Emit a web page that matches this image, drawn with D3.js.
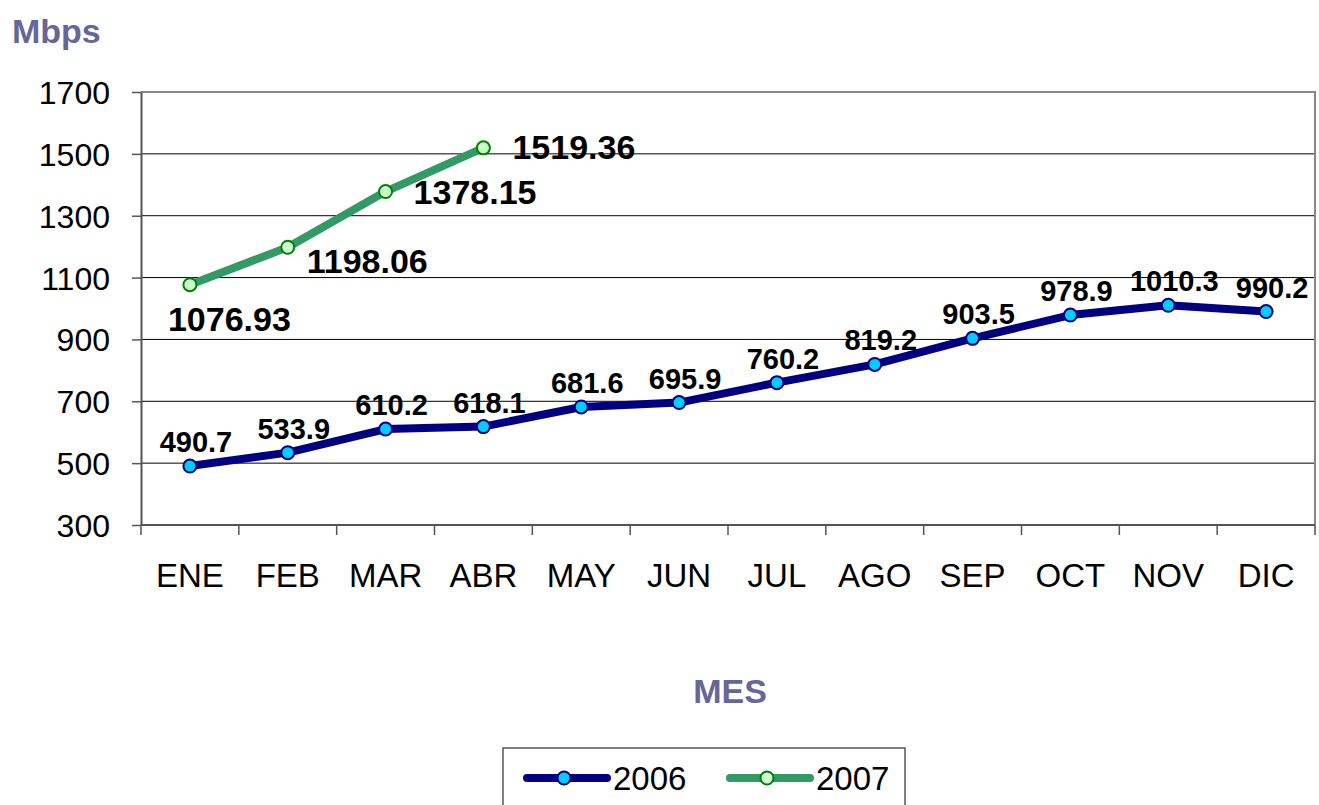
<!DOCTYPE html>
<html>
<head>
<meta charset="utf-8">
<script src="https://cdn.jsdelivr.net/npm/d3@7"></script>
<style>
  body { margin: 0; background: #fff; }
  svg { display: block; font-family: "Liberation Sans", Arial, sans-serif; }
</style>
</head>
<body>
<div id="chart"></div>
<script>
const months = ["ENE", "FEB", "MAR", "ABR", "MAY", "JUN", "JUL", "AGO", "SEP", "OCT", "NOV", "DIC"]
const values2006 = [490.7, 533.9, 610.2, 618.1, 681.6, 695.9, 760.2, 819.2, 903.5, 978.9, 1010.3, 990.2]
const values2007 = [1076.93, 1198.06, 1378.15, 1519.36]
const yTicks = [300, 500, 700, 900, 1100, 1300, 1500, 1700]

const width = 1319
const height = 805
const margin = ({ top: 92, right: 4, bottom: 280, left: 141 })

const x = d3.scaleBand().domain(months).range([margin.left, width - margin.right])
const y = d3.scaleLinear().domain([300, 1700]).range([height - margin.bottom, margin.top])
const cx = m => x(m) + x.bandwidth() / 2

const svg = d3.select("#chart").append("svg")
	.attr("width", width)
	.attr("height", height)

// gridlines
svg.append("g")
	.selectAll("line")
	.data(yTicks.slice(1, -1))
	.join("line")
	.attr("x1", margin.left).attr("x2", width - margin.right)
	.attr("y1", d => y(d)).attr("y2", d => y(d))
	.attr("stroke", "#000").attr("stroke-width", 1)

// plot frame top / right
svg.append("path")
	.attr("d", `M${margin.left},${y(1700)}H${width - margin.right}V${y(300)}`)
	.attr("fill", "none").attr("stroke", "#888").attr("stroke-width", 2)

// y axis
const yAxis = svg.append("g")
	.attr("transform", `translate(${margin.left},0)`)
	.call(d3.axisLeft(y).tickValues(yTicks).tickFormat(d3.format("d")).tickSize(9).tickPadding(22).tickSizeOuter(0))
yAxis.select(".domain").attr("stroke", "#555").attr("stroke-width", 2)
yAxis.selectAll(".tick line").attr("stroke", "#555").attr("stroke-width", 1.5)
yAxis.selectAll("text").attr("font-size", 32).attr("fill", "#000").attr("dy", "0.36em")
	.attr("font-family", "Liberation Sans, Arial, sans-serif")

// x axis: ticks at category boundaries
const xAxisG = svg.append("g").attr("transform", `translate(0,${y(300)})`)
xAxisG.append("line")
	.attr("x1", margin.left).attr("x2", width - margin.right)
	.attr("stroke", "#555").attr("stroke-width", 2)
xAxisG.selectAll(".bound")
	.data(months.concat(["end"]))
	.join("line")
	.attr("x1", (d, i) => i < months.length ? x(d) : width - margin.right)
	.attr("x2", (d, i) => i < months.length ? x(d) : width - margin.right)
	.attr("y1", 0).attr("y2", 10)
	.attr("stroke", "#555").attr("stroke-width", 1.5)
xAxisG.selectAll(".lbl")
	.data(months)
	.join("text")
	.attr("x", d => cx(d))
	.attr("y", 62)
	.attr("text-anchor", "middle")
	.attr("font-size", 33)
	.text(d => d)

// axis titles
svg.append("text").attr("x", 12).attr("y", 43)
	.attr("font-size", 34).attr("font-weight", "bold").attr("fill", "#666699")
	.text("Mbps")
svg.append("text").attr("x", 730).attr("y", 703)
	.attr("text-anchor", "middle")
	.attr("font-size", 34).attr("font-weight", "bold").attr("fill", "#666699")
	.text("MES")

const line = d3.line().x(d => cx(d.m)).y(d => y(d.v))
const data2006 = months.map((m, i) => ({ m: m, v: values2006[i] }))
const data2007 = values2007.map((v, i) => ({ m: months[i], v: v }))

svg.append("path").datum(data2006)
	.attr("d", line).attr("fill", "none")
	.attr("stroke", "#000080").attr("stroke-width", 8).attr("stroke-linejoin", "round")
svg.append("path").datum(data2007)
	.attr("d", line).attr("fill", "none")
	.attr("stroke", "#339966").attr("stroke-width", 8).attr("stroke-linejoin", "round")

svg.append("g").selectAll("circle").data(data2006).join("circle")
	.attr("cx", d => cx(d.m)).attr("cy", d => y(d.v)).attr("r", 6.5)
	.attr("fill", "#00ccff").attr("stroke", "#000080").attr("stroke-width", 2)
svg.append("g").selectAll("circle").data(data2007).join("circle")
	.attr("cx", d => cx(d.m)).attr("cy", d => y(d.v)).attr("r", 6.5)
	.attr("fill", "#ccffcc").attr("stroke", "#008000").attr("stroke-width", 2)

// labels
svg.append("g").selectAll("text").data(data2006).join("text")
	.attr("x", d => cx(d.m) + 6).attr("y", d => y(d.v) - 14)
	.attr("text-anchor", "middle")
	.attr("font-size", 29).attr("font-weight", "bold")
	.text(d => d.v)
const dx2007 = [-22, 19, 28, 29]
const dy2007 = [46, 26, 12, 11]
svg.append("g").selectAll("text").data(data2007).join("text")
	.attr("x", (d, i) => cx(d.m) + dx2007[i])
	.attr("y", (d, i) => y(d.v) + dy2007[i])
	.attr("font-size", 34).attr("font-weight", "bold")
	.text(d => d.v.toFixed(2))

// legend
const legend = svg.append("g")
legend.append("rect").attr("x", 503).attr("y", 748).attr("width", 402).attr("height", 70)
	.attr("fill", "#fff").attr("stroke", "#555").attr("stroke-width", 1.5)
const legendItems = [
	{ name: "2006", x: 527, stroke: "#000080", fill: "#00ccff", ms: "#000080" },
	{ name: "2007", x: 730, stroke: "#339966", fill: "#ccffcc", ms: "#008000" }
]
const li = legend.selectAll(".li").data(legendItems).join("g")
	.attr("transform", d => `translate(${d.x},778)`)
li.append("line").attr("x1", 0).attr("x2", 80)
	.attr("stroke", d => d.stroke).attr("stroke-width", 8).attr("stroke-linecap", "round")
li.append("circle").attr("cx", 37).attr("r", 6.5)
	.attr("fill", d => d.fill).attr("stroke", d => d.ms).attr("stroke-width", 2)
li.append("text").attr("x", 86).attr("y", 12)
	.attr("font-size", 33).text(d => d.name)
</script>
</body>
</html>
